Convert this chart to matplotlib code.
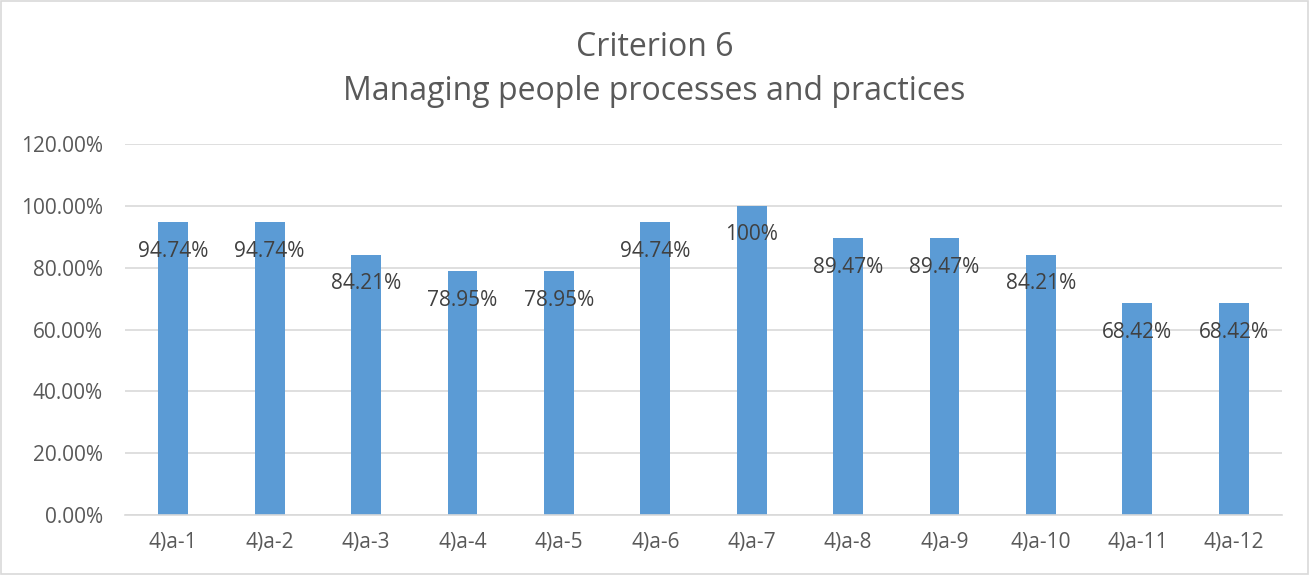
import matplotlib
matplotlib.use("Agg")
import matplotlib.pyplot as plt
from matplotlib.ticker import FuncFormatter, MultipleLocator
from matplotlib.patches import Rectangle

categories = ["4)a-1", "4)a-2", "4)a-3", "4)a-4", "4)a-5", "4)a-6",
              "4)a-7", "4)a-8", "4)a-9", "4)a-10", "4)a-11", "4)a-12"]
values = [94.74, 94.74, 84.21, 78.95, 78.95, 94.74,
          100.0, 89.47, 89.47, 84.21, 68.42, 68.42]
labels = ["94.74%", "94.74%", "84.21%", "78.95%", "78.95%", "94.74%",
          "100%", "89.47%", "89.47%", "84.21%", "68.42%", "68.42%"]
title_lines = ["Criterion 6", "Managing people processes and practices"]

plt.rcParams['font.family'] = ['Open Sans', 'DejaVu Sans']

W, H = 1309, 575
fig = plt.figure(figsize=(W / 100, H / 100), dpi=100)
ax = fig.add_axes([125 / W, (H - 515) / H, (1282 - 125) / W, (515 - 144) / H])

x = list(range(len(categories)))
ax.bar(x, values, width=0.31, color="#5B9BD5", zorder=2)
ax.set_xlim(-0.5, len(categories) - 0.5)
ax.set_ylim(0, 120)
ax.yaxis.set_major_locator(MultipleLocator(20))
ax.yaxis.set_major_formatter(FuncFormatter(lambda v, p: f"{v:.2f}%"))
ax.set_xticks(x)
ax.set_xticklabels(categories)
ax.grid(axis="y", color="#D9D9D9", linewidth=1.2, zorder=0)
for s in ["top", "right", "left"]:
    ax.spines[s].set_visible(False)
ax.spines["bottom"].set_color("#D9D9D9")
ax.spines["bottom"].set_linewidth(1.2)
ax.tick_params(axis="both", length=0, colors="#595959", labelsize=15)
ax.tick_params(axis="x", pad=12)
ax.tick_params(axis="y", pad=16)

for xi, v, lab in zip(x, values, labels):
    ax.annotate(lab, (xi, v), xytext=(0, -21), textcoords="offset points",
                ha="center", va="center", fontsize=15, color="#404040", zorder=3)

fig.text(0.5, 1 - 47 / H, title_lines[0], ha="center", va="center",
         fontsize=23, color="#595959")
fig.text(0.5, 1 - 92 / H, title_lines[1], ha="center", va="center",
         fontsize=23, color="#595959")

fig.patches.append(Rectangle((1 / W, 1 / H), 1 - 2 / W, 1 - 2 / H, transform=fig.transFigure,
                             fill=False, edgecolor="#D9D9D9", linewidth=1.2))

fig.savefig("out.png", dpi=100)
